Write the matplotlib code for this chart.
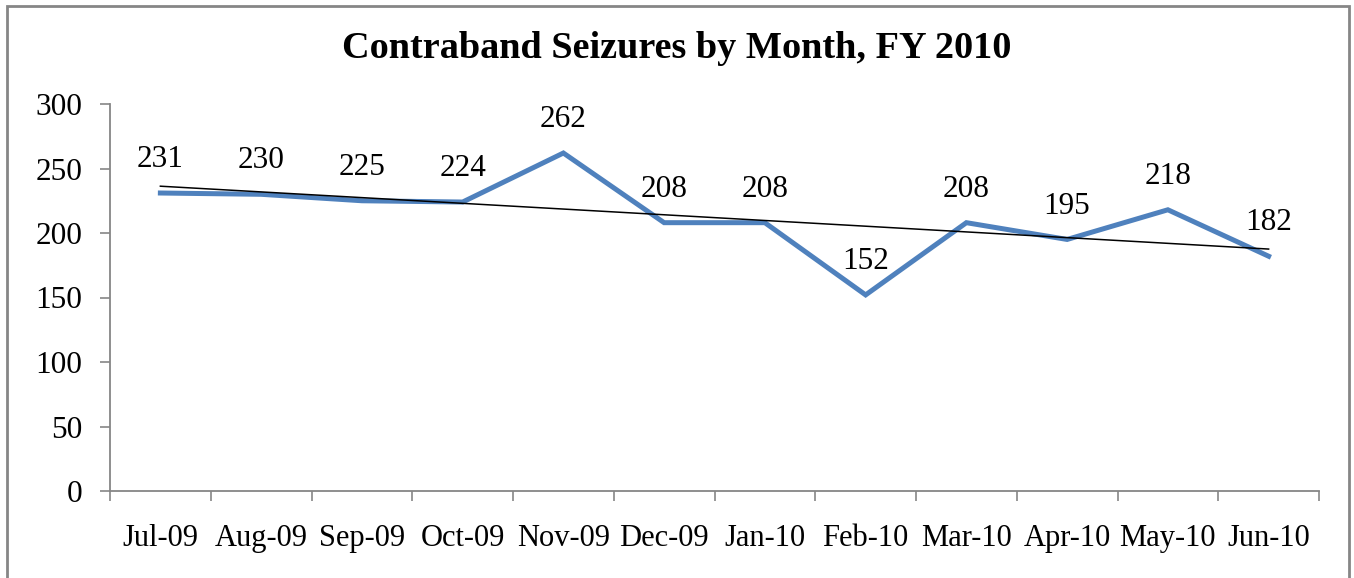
import numpy as np
import matplotlib
matplotlib.use('Agg')
import matplotlib.pyplot as plt
from matplotlib.patches import Rectangle

months = ['Jul-09', 'Aug-09', 'Sep-09', 'Oct-09', 'Nov-09', 'Dec-09',
          'Jan-10', 'Feb-10', 'Mar-10', 'Apr-10', 'May-10', 'Jun-10']
seizures = [231, 230, 225, 224, 262, 208, 208, 152, 208, 195, 218, 182]
y_ticks = [0, 50, 100, 150, 200, 250, 300]

plt.rcParams['font.family'] = ['Liberation Serif', 'DejaVu Serif']

fig = plt.figure(figsize=(13.54, 5.78), dpi=100)
ax = fig.add_axes([110/1354, 1-491/578, (1319-110)/1354, (491-104)/578])

x = np.arange(len(months))
ax.plot(x, seizures, color='#4F81BD', lw=3.6, solid_joinstyle='miter', zorder=3)

# linear trendline
slope, icpt = np.polyfit(x, seizures, 1)
ax.plot(x, slope*x + icpt, color='black', lw=1.1, zorder=4)

for xi, v in zip(x, seizures):
    ax.annotate(str(v), (xi, v), xytext=(0, 24), textcoords='offset points',
                ha='center', va='center', fontsize=22.5)

ax.set_xlim(-0.5, len(months)-0.5)
ax.set_ylim(0, 300)
ax.set_yticks(y_ticks)
ax.tick_params(axis='y', labelsize=22.5, length=7, width=1.2, color='#868686', pad=13)
ax.set_xticks(x)
ax.set_xticklabels(months)
ax.set_xticks(np.arange(-0.5, len(months)), minor=True)
ax.tick_params(axis='x', which='major', length=0, labelsize=22, pad=24)
ax.tick_params(axis='x', which='minor', length=7, width=1.2, color='#868686')

for s in ['top', 'right']:
    ax.spines[s].set_visible(False)
for s in ['left', 'bottom']:
    ax.spines[s].set_color('#868686')
    ax.spines[s].set_linewidth(1.3)

fig.text(0.5, 1-48/578, 'Contraband Seizures by Month, FY 2010', ha='center', va='center',
         fontsize=27.5, fontweight='bold')

fig.patches.append(Rectangle((7/1354, -0.05), (1349-7)/1354, 1-6/578+0.05,
                             transform=fig.transFigure, fill=False,
                             edgecolor='#868686', lw=2))

fig.savefig('out.png', dpi=100)
